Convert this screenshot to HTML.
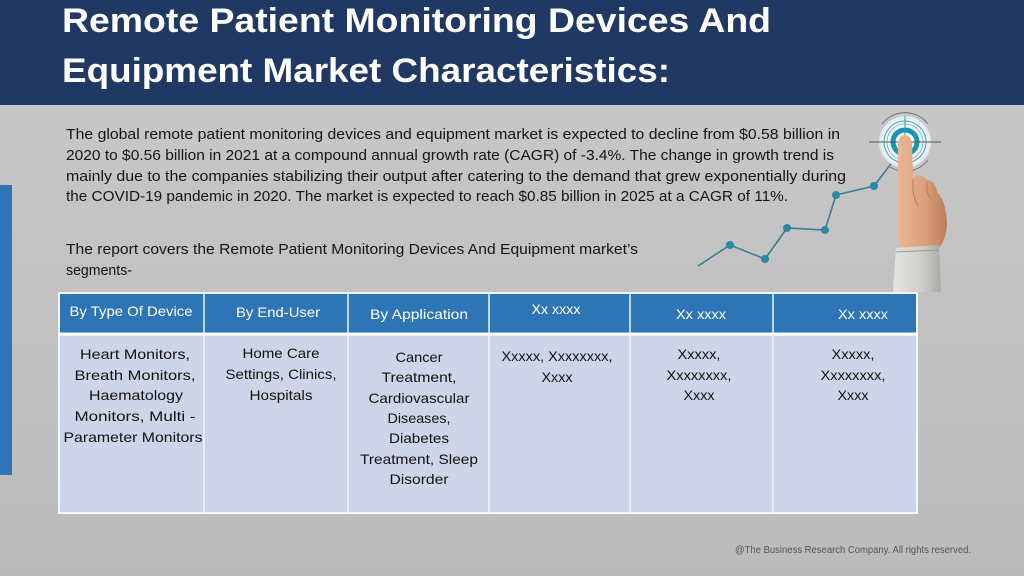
<!DOCTYPE html>
<html>
<head>
<meta charset="utf-8">
<style>
html,body{margin:0;padding:0;width:1024px;height:576px;overflow:hidden;}
svg{display:block;}
text{font-family:"Liberation Sans",sans-serif;}
</style>
</head>
<body>
<svg width="1024" height="576" viewBox="0 0 1024 576" xmlns="http://www.w3.org/2000/svg">
<defs>
<linearGradient id="bg" x1="0" y1="0" x2="0" y2="1">
<stop offset="0" stop-color="#c9c9c9"/>
<stop offset="1" stop-color="#bbbbbb"/>
</linearGradient>
<radialGradient id="tg" cx="0.5" cy="0.5" r="0.5">
<stop offset="0" stop-color="#ffffff"/>
<stop offset="0.8" stop-color="#f2f6f8"/>
<stop offset="1" stop-color="#dfe6ea"/>
</radialGradient>
<linearGradient id="skin" x1="0" y1="0" x2="1" y2="0">
<stop offset="0" stop-color="#e8b897"/>
<stop offset="0.6" stop-color="#d99d78"/>
<stop offset="1" stop-color="#b87b58"/>
</linearGradient>
<linearGradient id="sleeve" x1="0" y1="0" x2="1" y2="0">
<stop offset="0" stop-color="#e4e4e0"/>
<stop offset="0.6" stop-color="#cfcfca"/>
<stop offset="1" stop-color="#a9a9a4"/>
</linearGradient>
</defs>

<rect width="1024" height="576" fill="url(#bg)"/>
<!-- header -->
<rect x="0" y="0" width="1024" height="105" fill="#203864"/>
<text x="62" y="32" font-size="34" font-weight="bold" fill="#ffffff" textLength="709" lengthAdjust="spacingAndGlyphs">Remote Patient Monitoring Devices And</text>
<text x="62" y="82" font-size="34" font-weight="bold" fill="#ffffff" textLength="608" lengthAdjust="spacingAndGlyphs">Equipment Market Characteristics:</text>

<!-- left blue bar -->
<rect x="0" y="185" width="12" height="290" fill="#2e75b6"/>

<!-- paragraph -->
<g font-size="14.5" fill="#151515">
<text x="66" y="139" textLength="774" lengthAdjust="spacingAndGlyphs">The global remote patient monitoring devices and equipment market is expected to decline from $0.58 billion in</text>
<text x="66" y="160" textLength="768" lengthAdjust="spacingAndGlyphs">2020 to $0.56 billion in 2021 at a compound annual growth rate (CAGR) of -3.4%. The change in growth trend is</text>
<text x="66" y="181" textLength="780" lengthAdjust="spacingAndGlyphs">mainly due to the companies stabilizing their output after catering to the demand that grew exponentially during</text>
<text x="66" y="201" textLength="722" lengthAdjust="spacingAndGlyphs">the COVID-19 pandemic in 2020. The market is expected to reach $0.85 billion in 2025 at a CAGR of 11%.</text>
<text x="66" y="254" textLength="572" lengthAdjust="spacingAndGlyphs">The report covers the Remote Patient Monitoring Devices And Equipment market’s</text>
<text x="66" y="275" textLength="66" lengthAdjust="spacingAndGlyphs">segments-</text>
</g>

<!-- chart line -->
<polyline points="698,266 730,245 765,259 787,228 825,230 836,195 874,186 903,148" fill="none" stroke="#3f7d92" stroke-width="1.6"/>
<g fill="#2b87a6">
<circle cx="730" cy="245" r="4"/>
<circle cx="765" cy="259" r="4"/>
<circle cx="787" cy="228" r="4"/>
<circle cx="825" cy="230" r="4"/>
<circle cx="836" cy="195" r="4"/>
<circle cx="874" cy="186" r="4"/>
</g>

<!-- target -->
<circle cx="905" cy="142" r="26" fill="url(#tg)"/>
<path d="M882,124 A29,29 0 0 1 928,124" fill="none" stroke="#6f7479" stroke-width="1"/>
<path d="M928,160 A29,29 0 0 1 890,167" fill="none" stroke="#6f7479" stroke-width="1"/>
<circle cx="905" cy="142" r="21" fill="none" stroke="#3aa6bf" stroke-width="1"/>
<circle cx="905" cy="142" r="18" fill="none" stroke="#5bb7cb" stroke-width="0.8"/>
<circle cx="905" cy="142" r="12" fill="none" stroke="#1597b3" stroke-width="5"/>
<line x1="869" y1="142" x2="941" y2="142" stroke="#4a5258" stroke-width="1"/>
<line x1="905" y1="116" x2="905" y2="168" stroke="#3a9a8a" stroke-width="1"/>

<!-- hand -->
<path d="M898,144 Q899,135 905,135 Q911,135 912,144 L913,178 Q920,172 927,180 Q935,180 937,192 Q946,201 947,224 Q946,240 939,248 L900,248 Q896,222 897,200 Z" fill="url(#skin)"/>
<path d="M913,180 Q912,196 918,206" fill="none" stroke="#b97b59" stroke-width="1"/>
<path d="M927,182 Q926,192 930,198" fill="none" stroke="#b97b59" stroke-width="1"/>
<!-- sleeve -->
<path d="M896,248 L939,245 L941,292 L893,292 Z" fill="url(#sleeve)"/>
<line x1="896" y1="252" x2="939" y2="250" stroke="#9a9a96" stroke-width="1"/>

<!-- table -->
<rect x="59" y="293" width="858" height="40" fill="#2e75b6"/>
<rect x="59" y="335" width="858" height="178" fill="#cfd5e8"/>
<rect x="59" y="293" width="858" height="220" fill="none" stroke="#f4f6fb" stroke-width="2"/>
<line x1="59" y1="334" x2="917" y2="334" stroke="#ffffff" stroke-width="3"/>
<g stroke="#f0f3fa" stroke-width="1.5">
<line x1="204" y1="293" x2="204" y2="513"/>
<line x1="348" y1="293" x2="348" y2="513"/>
<line x1="489" y1="293" x2="489" y2="513"/>
<line x1="630" y1="293" x2="630" y2="513"/>
<line x1="773" y1="293" x2="773" y2="513"/>
</g>

<g font-size="14" fill="#ffffff" text-anchor="middle">
<text x="131" y="316" textLength="123" lengthAdjust="spacingAndGlyphs">By Type Of Device</text>
<text x="278" y="317" textLength="84" lengthAdjust="spacingAndGlyphs">By End-User</text>
<text x="419" y="319" textLength="98" lengthAdjust="spacingAndGlyphs">By Application</text>
<text x="556" y="314" textLength="49" lengthAdjust="spacingAndGlyphs">Xx xxxx</text>
<text x="701" y="319" textLength="50" lengthAdjust="spacingAndGlyphs">Xx xxxx</text>
<text x="863" y="319" textLength="50" lengthAdjust="spacingAndGlyphs">Xx xxxx</text>
</g>

<g font-size="14" fill="#111111" text-anchor="middle">
<text x="135" y="359" textLength="110" lengthAdjust="spacingAndGlyphs">Heart Monitors,</text>
<text x="135" y="380" textLength="121" lengthAdjust="spacingAndGlyphs">Breath Monitors,</text>
<text x="136" y="400" textLength="94" lengthAdjust="spacingAndGlyphs">Haematology</text>
<text x="135" y="421" textLength="121" lengthAdjust="spacingAndGlyphs">Monitors, Multi -</text>
<text x="133" y="442" textLength="139" lengthAdjust="spacingAndGlyphs">Parameter Monitors</text>

<text x="281" y="358" textLength="77" lengthAdjust="spacingAndGlyphs">Home Care</text>
<text x="281" y="379" textLength="111" lengthAdjust="spacingAndGlyphs">Settings, Clinics,</text>
<text x="281" y="400" textLength="63" lengthAdjust="spacingAndGlyphs">Hospitals</text>

<text x="419" y="362" textLength="47" lengthAdjust="spacingAndGlyphs">Cancer</text>
<text x="419" y="382" textLength="75" lengthAdjust="spacingAndGlyphs">Treatment,</text>
<text x="419" y="403" textLength="101" lengthAdjust="spacingAndGlyphs">Cardiovascular</text>
<text x="419" y="423" textLength="63" lengthAdjust="spacingAndGlyphs">Diseases,</text>
<text x="419" y="443" textLength="60" lengthAdjust="spacingAndGlyphs">Diabetes</text>
<text x="419" y="464" textLength="118" lengthAdjust="spacingAndGlyphs">Treatment, Sleep</text>
<text x="419" y="484" textLength="59" lengthAdjust="spacingAndGlyphs">Disorder</text>

<text x="557" y="361" textLength="111" lengthAdjust="spacingAndGlyphs">Xxxxx, Xxxxxxxx,</text>
<text x="557" y="382" textLength="31" lengthAdjust="spacingAndGlyphs">Xxxx</text>

<text x="699" y="359" textLength="43" lengthAdjust="spacingAndGlyphs">Xxxxx,</text>
<text x="699" y="380" textLength="65" lengthAdjust="spacingAndGlyphs">Xxxxxxxx,</text>
<text x="699" y="400" textLength="31" lengthAdjust="spacingAndGlyphs">Xxxx</text>

<text x="853" y="359" textLength="43" lengthAdjust="spacingAndGlyphs">Xxxxx,</text>
<text x="853" y="380" textLength="65" lengthAdjust="spacingAndGlyphs">Xxxxxxxx,</text>
<text x="853" y="400" textLength="31" lengthAdjust="spacingAndGlyphs">Xxxx</text>
</g>

<text x="735" y="553" font-size="10" fill="#555555" textLength="236" lengthAdjust="spacingAndGlyphs">@The Business Research Company. All rights reserved.</text>
</svg>
</body>
</html>
